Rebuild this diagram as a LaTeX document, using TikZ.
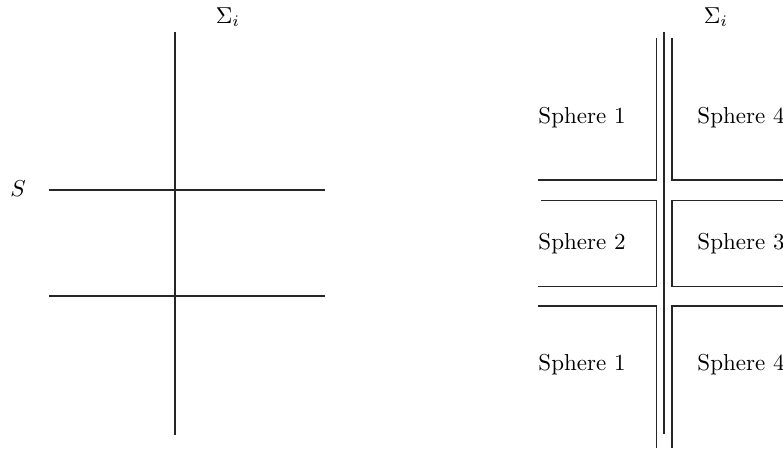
\documentclass[tikz,border=0pt]{standalone}
\usepackage{amsmath,amssymb}
\usetikzlibrary{positioning,calc}

\begin{document}
\begin{tikzpicture}[x=0.4345pt,y=-0.4345pt,
wall/.style={line width=0.6pt,draw=black!85},
lab/.style={inner sep=1pt,font=\normalsize}]
\useasboundingbox (0,0) rectangle (783,450);
% left picture
\draw[wall] (175,32)--(175,435);
\draw[wall] (49,190)--(325,190);
\draw[wall] (49,296)--(325,296);
\node[lab] (sigL) at (228,17) {$\Sigma_i$};
\node[lab] (S) at (18,189) {$S$};
% right picture
\draw[wall] (664,32)--(664,434);
\draw[wall] (656.5,38)--(656.5,180)--(538,180);
\draw[wall] (541,200.5)--(656.5,200.5)--(656.5,286.5)--(538,286.5);
\draw[wall] (538,306)--(656.5,306)--(656.5,448);
\draw[wall] (672,38)--(672,180)--(783,180);
\draw[wall] (783,200.5)--(672,200.5)--(672,286.5)--(783,286.5);
\draw[wall] (783,306)--(672,306)--(672,448);
\node[lab] (sigR) at (716,17) {$\Sigma_i$};
\node[lab] (s1a) at (582,118) {Sphere 1};
\node[lab] (s4a) at (741,118) {Sphere 4};
\node[lab] (s2) at (582,244) {Sphere 2};
\node[lab] (s3) at (741,244) {Sphere 3};
\node[lab] (s1b) at (582,365) {Sphere 1};
\node[lab] (s4b) at (741,365) {Sphere 4};
\end{tikzpicture}
\end{document}
